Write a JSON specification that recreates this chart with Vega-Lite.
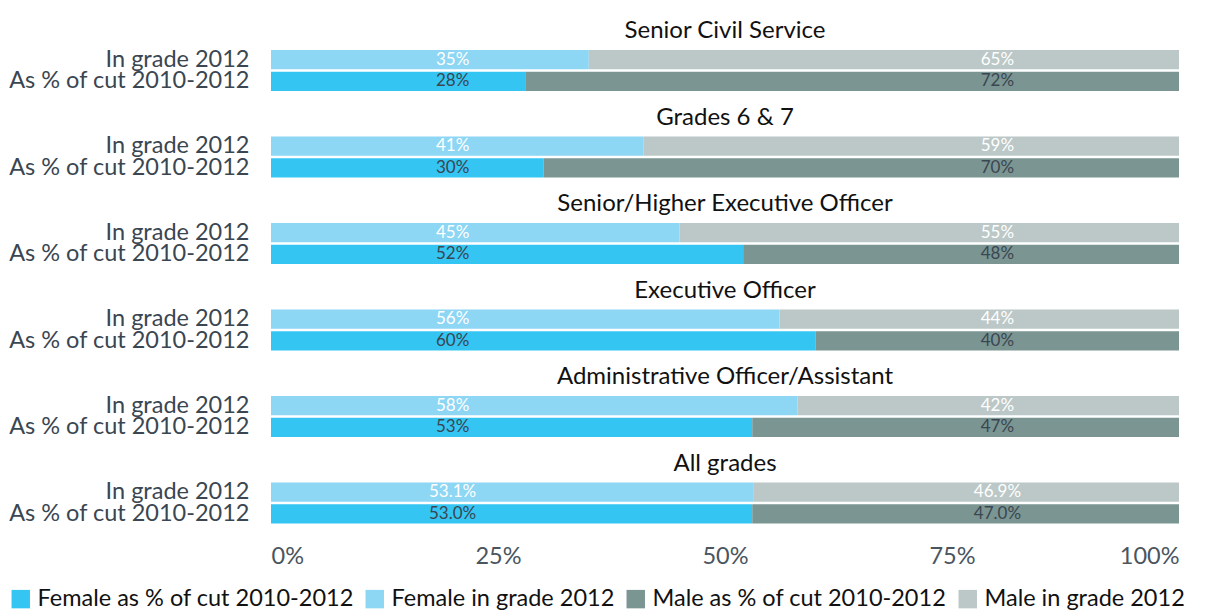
{
  "$schema": "https://vega.github.io/schema/vega-lite/v6.json",
  "padding": {"left": 8, "top": 19, "right": 5, "bottom": 0},
  "background": "white",
  "datasets": {
    "rows": [
      {"group": "Senior Civil Service", "bar": "In grade 2012", "series": "Female in grade 2012", "value": 0.35, "label": "35%"},
      {"group": "Senior Civil Service", "bar": "In grade 2012", "series": "Male in grade 2012", "value": 0.65, "label": "65%"},
      {"group": "Senior Civil Service", "bar": "As % of cut 2010-2012", "series": "Female as % of cut 2010-2012", "value": 0.28, "label": "28%"},
      {"group": "Senior Civil Service", "bar": "As % of cut 2010-2012", "series": "Male as % of cut 2010-2012", "value": 0.72, "label": "72%"},
      {"group": "Grades 6 & 7", "bar": "In grade 2012", "series": "Female in grade 2012", "value": 0.41, "label": "41%"},
      {"group": "Grades 6 & 7", "bar": "In grade 2012", "series": "Male in grade 2012", "value": 0.59, "label": "59%"},
      {"group": "Grades 6 & 7", "bar": "As % of cut 2010-2012", "series": "Female as % of cut 2010-2012", "value": 0.30, "label": "30%"},
      {"group": "Grades 6 & 7", "bar": "As % of cut 2010-2012", "series": "Male as % of cut 2010-2012", "value": 0.70, "label": "70%"},
      {"group": "Senior/Higher Executive Officer", "bar": "In grade 2012", "series": "Female in grade 2012", "value": 0.45, "label": "45%"},
      {"group": "Senior/Higher Executive Officer", "bar": "In grade 2012", "series": "Male in grade 2012", "value": 0.55, "label": "55%"},
      {"group": "Senior/Higher Executive Officer", "bar": "As % of cut 2010-2012", "series": "Female as % of cut 2010-2012", "value": 0.52, "label": "52%"},
      {"group": "Senior/Higher Executive Officer", "bar": "As % of cut 2010-2012", "series": "Male as % of cut 2010-2012", "value": 0.48, "label": "48%"},
      {"group": "Executive Officer", "bar": "In grade 2012", "series": "Female in grade 2012", "value": 0.56, "label": "56%"},
      {"group": "Executive Officer", "bar": "In grade 2012", "series": "Male in grade 2012", "value": 0.44, "label": "44%"},
      {"group": "Executive Officer", "bar": "As % of cut 2010-2012", "series": "Female as % of cut 2010-2012", "value": 0.60, "label": "60%"},
      {"group": "Executive Officer", "bar": "As % of cut 2010-2012", "series": "Male as % of cut 2010-2012", "value": 0.40, "label": "40%"},
      {"group": "Administrative Officer/Assistant", "bar": "In grade 2012", "series": "Female in grade 2012", "value": 0.58, "label": "58%"},
      {"group": "Administrative Officer/Assistant", "bar": "In grade 2012", "series": "Male in grade 2012", "value": 0.42, "label": "42%"},
      {"group": "Administrative Officer/Assistant", "bar": "As % of cut 2010-2012", "series": "Female as % of cut 2010-2012", "value": 0.53, "label": "53%"},
      {"group": "Administrative Officer/Assistant", "bar": "As % of cut 2010-2012", "series": "Male as % of cut 2010-2012", "value": 0.47, "label": "47%"},
      {"group": "All grades", "bar": "In grade 2012", "series": "Female in grade 2012", "value": 0.531, "label": "53.1%"},
      {"group": "All grades", "bar": "In grade 2012", "series": "Male in grade 2012", "value": 0.469, "label": "46.9%"},
      {"group": "All grades", "bar": "As % of cut 2010-2012", "series": "Female as % of cut 2010-2012", "value": 0.530, "label": "53.0%"},
      {"group": "All grades", "bar": "As % of cut 2010-2012", "series": "Male as % of cut 2010-2012", "value": 0.470, "label": "47.0%"}
    ]
  },
  "data": {"name": "rows"},
  "facet": {
    "row": {
      "field": "group",
      "type": "nominal",
      "sort": ["Senior Civil Service", "Grades 6 & 7", "Senior/Higher Executive Officer", "Executive Officer", "Administrative Officer/Assistant", "All grades"],
      "header": {"title": null, "labelOrient": "top", "labelAnchor": "middle", "labelAngle": 0, "labelFont": "Lato", "labelFontSize": 24, "labelColor": "#111111", "labelPadding": -17}
    }
  },
  "spacing": {"row": 14.5},
  "spec": {
    "width": 908,
    "height": 41,
    "encoding": {
      "y": {
        "field": "bar",
        "type": "nominal",
        "sort": ["In grade 2012", "As % of cut 2010-2012"],
        "scale": {"paddingInner": 0.12, "paddingOuter": 0},
        "axis": {"title": null, "domain": false, "ticks": false, "labelFont": "Lato", "labelFontSize": 23.5, "labelColor": "#3a4651", "labelPadding": 22, "labelLimit": 400}
      }
    },
    "layer": [
      {
        "mark": {"type": "bar"},
        "encoding": {
          "x": {
            "field": "value",
            "type": "quantitative",
            "stack": "zero",
            "scale": {"domain": [0, 1], "nice": false},
            "axis": {"title": null, "values": [0, 0.25, 0.5, 0.75, 1], "format": "~%", "domain": false, "ticks": false, "grid": false, "labelFont": "Lato", "labelFontSize": 23.5, "labelColor": "#4a5560", "labelPadding": 20}
          },
          "color": {
            "field": "series",
            "type": "nominal",
            "scale": {
              "domain": ["Female as % of cut 2010-2012", "Female in grade 2012", "Male as % of cut 2010-2012", "Male in grade 2012"],
              "range": ["#35c5f2", "#8dd6f4", "#7a9592", "#bbc8c7"]
            },
            "legend": {"title": null, "orient": "none", "legendX": -262, "legendY": 537, "direction": "horizontal", "symbolType": "square", "symbolSize": 340, "symbolStrokeWidth": 0, "labelFont": "Lato", "labelFontSize": 23.5, "labelColor": "#111111", "columnPadding": 9, "labelOffset": 5, "labelLimit": 400}
          }
        }
      },
      {
        "transform": [{"filter": "indexof(datum.series, 'Female') === 0"}],
        "mark": {"type": "text", "font": "Lato", "fontSize": 17, "baseline": "middle", "align": "center"},
        "encoding": {
          "x": {"datum": 0.2, "type": "quantitative"},
          "text": {"field": "label"},
          "color": {"condition": {"test": "datum.bar === 'In grade 2012'", "value": "#ffffff"}, "value": "#3a4651"}
        }
      },
      {
        "transform": [{"filter": "indexof(datum.series, 'Male') === 0"}],
        "mark": {"type": "text", "font": "Lato", "fontSize": 17, "baseline": "middle", "align": "center"},
        "encoding": {
          "x": {"datum": 0.8, "type": "quantitative"},
          "text": {"field": "label"},
          "color": {"condition": {"test": "datum.bar === 'In grade 2012'", "value": "#ffffff"}, "value": "#3a4651"}
        }
      }
    ]
  },
  "config": {"view": {"stroke": null}}
}
